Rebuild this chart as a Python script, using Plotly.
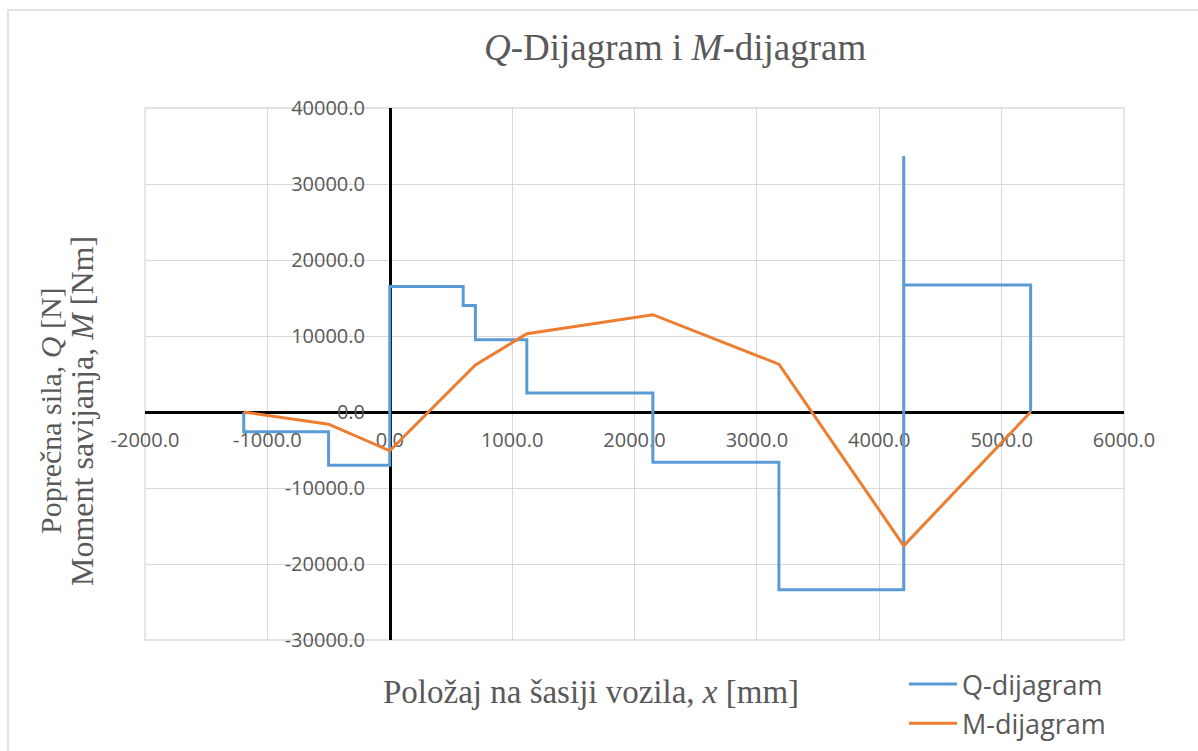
import plotly.graph_objects as go

# Shear force (Q) diagram: step function along the chassis
q_x = [-1193, -1193, -500, -500, 0, 0, 600, 600, 700, 700, 1120, 1120,
       2150, 2150, 3180, 3180, 4200, 4200, 4200, 5237, 5237]
q_y = [0, -2600, -2600, -7000, -7000, 16500, 16500, 14000, 14000, 9500, 9500, 2500,
       2500, -6600, -6600, -23400, -23400, 33700, 16700, 16700, 0]

# Bending moment (M) diagram
m_x = [-1193, -500, 0, 700, 1120, 2150, 3180, 4200, 5237]
m_y = [0, -1600, -5100, 6200, 10300, 12800, 6300, -17600, 0]

x_ticks = [-2000, -1000, 0, 1000, 2000, 3000, 4000, 5000, 6000]
y_ticks = [-30000, -20000, -10000, 0, 10000, 20000, 30000, 40000]

x_range = [x_ticks[0], x_ticks[-1]]
y_range = [y_ticks[0], y_ticks[-1]]

BLUE = "#5B9BD5"
ORANGE = "#ED7D31"
GRAY_TXT = "#595959"
GRID = "#d9d9d9"
SERIF = "Liberation Serif"
SANS = "Open Sans"

W, H = 1198, 751
L, R, T, B = 145, 74, 108, 111
PW, PH = W - L - R, H - T - B


def fmt(v):
    # plain hyphen-minus, one decimal
    return f"{v:.1f}"


def px_x(px):
    return (px - L) / PW


def px_y(py):
    return (H - B - py) / PH


fig = go.Figure()
fig.add_trace(go.Scatter(x=q_x, y=q_y, mode="lines", name="Q-dijagram", legendgroup="q",
                         line=dict(color=BLUE, width=3)))
fig.add_trace(go.Scatter(x=m_x, y=m_y, mode="lines", name="M-dijagram", legendgroup="m",
                         line=dict(color=ORANGE, width=3)))

# axes cross at the origin
y0_frac = (0 - y_range[0]) / (y_range[1] - y_range[0])
x0_frac = (0 - x_range[0]) / (x_range[1] - x_range[0])

tick_font = dict(family=SANS, size=20, color=GRAY_TXT)

fig.update_xaxes(range=x_range, tickvals=x_ticks, ticktext=[fmt(v) for v in x_ticks],
                 showgrid=True, gridcolor=GRID, gridwidth=1.3,
                 zeroline=False, showline=True, linecolor="black", linewidth=2.5,
                 anchor="free", position=y0_frac, ticks="", tickfont=tick_font,
                 layer="below traces", ticklabelstandoff=9)
fig.update_yaxes(range=y_range, tickvals=y_ticks, ticktext=[fmt(v) for v in y_ticks],
                 showgrid=True, gridcolor=GRID, gridwidth=1.3,
                 zeroline=False, showline=True, linecolor="black", linewidth=2.5,
                 anchor="free", position=x0_frac, ticks="", tickfont=tick_font,
                 layer="below traces", ticklabelstandoff=20)

fig.update_layout(
    width=W, height=H,
    margin=dict(l=L, r=R, t=T, b=B, autoexpand=False),
    paper_bgcolor="white", plot_bgcolor="white",
    showlegend=True,
    legend=dict(xref="container", yref="container",
                x=904 / W, y=1 - 660 / H, xanchor="left", yanchor="top",
                font=dict(family=SANS, size=27, color=GRAY_TXT),
                bgcolor="rgba(0,0,0,0)", traceorder="grouped", tracegroupgap=1,
                itemwidth=48),
    annotations=[
        dict(text="<i>Q</i>-Dijagram i <i>M</i>-dijagram", xref="paper", yref="paper",
             x=px_x(675), y=px_y(47), xanchor="center", yanchor="middle", showarrow=False,
             font=dict(family=SERIF, size=37, color=GRAY_TXT)),
        dict(text="Položaj na šasiji vozila, <i>x</i> [mm]", xref="paper", yref="paper",
             x=px_x(591), y=px_y(692), xanchor="center", yanchor="middle", showarrow=False,
             font=dict(family=SERIF, size=33, color=GRAY_TXT)),
        dict(text="Poprečna sila, <i>Q</i> [N]",
             xref="paper", yref="paper", x=px_x(50), y=px_y(411),
             xanchor="center", yanchor="middle", showarrow=False, textangle=-90,
             font=dict(family=SERIF, size=30, color=GRAY_TXT)),
        dict(text="Moment savijanja, <i>M</i> [Nm]",
             xref="paper", yref="paper", x=px_x(82), y=px_y(411),
             xanchor="center", yanchor="middle", showarrow=False, textangle=-90,
             font=dict(family=SERIF, size=32, color=GRAY_TXT)),
    ],
    shapes=[
        # chart area border
        dict(type="rect", xref="paper", yref="paper",
             x0=px_x(8), y0=px_y(H + 40), x1=px_x(W + 40), y1=px_y(10),
             line=dict(color=GRID, width=1.5), fillcolor="rgba(0,0,0,0)", layer="below"),
        # plot area edge gridlines
        dict(type="rect", xref="paper", yref="paper", x0=0, y0=0, x1=1, y1=1,
             line=dict(color=GRID, width=1.3), fillcolor="rgba(0,0,0,0)", layer="below"),
    ],
)

fig.write_html("out.html")
